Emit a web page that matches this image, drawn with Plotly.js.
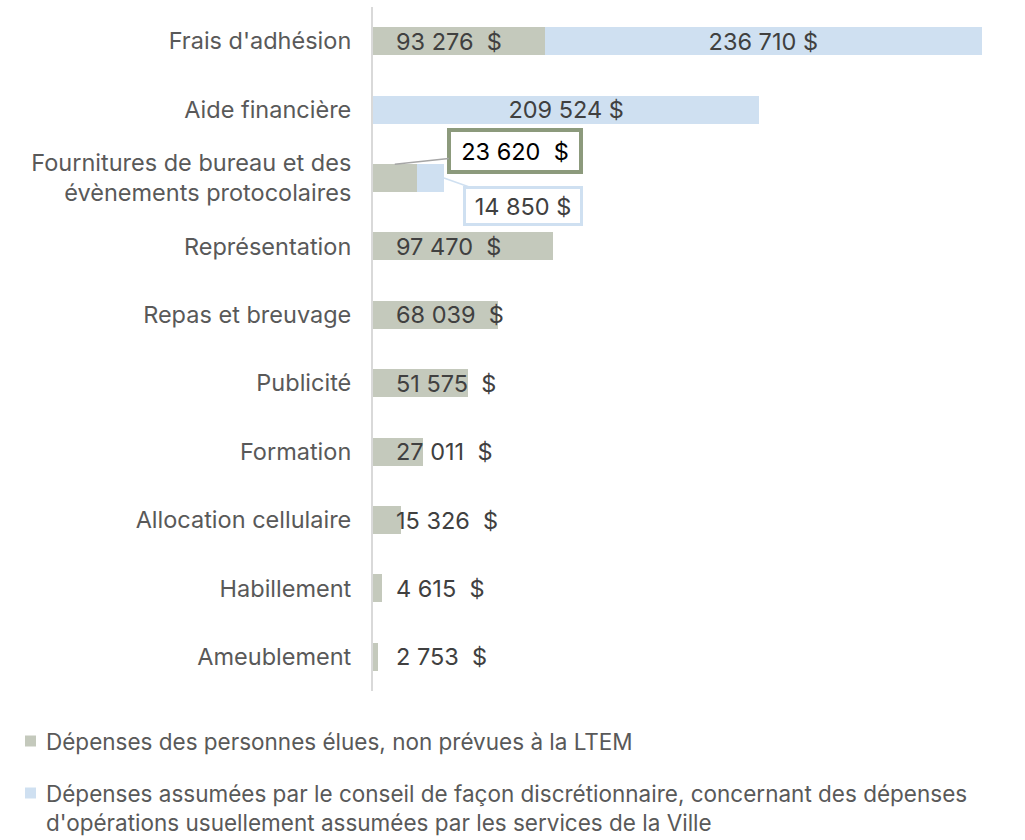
<!DOCTYPE html>
<html><head><meta charset="utf-8">
<script src="https://cdn.plot.ly/plotly-3.0.1.min.js"></script>
<style>html,body{margin:0;padding:0;background:#fff}#chart{width:1025px;height:840px}</style>
</head><body><div id="chart"></div>
<script>
const categories = ["Frais d'adhésion","Aide financière","Fournitures de bureau et des<br>évènements protocolaires","Représentation","Repas et breuvage","Publicité","Formation","Allocation cellulaire","Habillement","Ameublement"];
const eluesValues = [93276, null, 23620, 97470, 68039, 51575, 27011, 15326, 4615, 2753];
const conseilValues = [236710, 209524, 14850, null, null, null, null, null, null, null];
const seriesNames = ["Dépenses des personnes élues, non prévues à la LTEM","Dépenses assumées par le conseil de façon discrétionnaire, concernant des dépenses<br>d'opérations usuellement assumées par les services de la Ville"];
const calloutIndex = 2;

const fmt = v => v.toString().replace(/\B(?=(\d{3})+(?!\d))/g, "\u00a0");
const eluesLabels = eluesValues.map(v => v == null ? "" : fmt(v) + "\u00a0 $");
const conseilLabels = conseilValues.map((v,i) => (v == null || i === calloutIndex) ? "" : fmt(v) + " $");

const TXT = "#404040", LBL = "#595959", GREY = "#c4c9bc", BLUE = "#cfe0f1";
const seriesColors = [GREY, BLUE];
const FONT = "Inter, 'Open Sans', sans-serif";
const FS = 23.5;
const LFS = 22.5;

// plot area geometry (pixels) used to place the hand-drawn legend
const M = {l:373, r:25, t:7, b:149};
const PW = 1025 - M.l - M.r, PH = 840 - M.t - M.b;
const px2x = p => (p - M.l) / PW;
const py2y = p => (840 - M.b - p) / PH;

const traces = [
  {type:"bar", orientation:"h", name:seriesNames[0], y:categories, x:eluesValues,
   marker:{color:GREY}, hoverinfo:"skip"},
  {type:"bar", orientation:"h", name:seriesNames[1], y:categories, x:conseilValues,
   marker:{color:BLUE}, text:conseilLabels, textposition:"inside", insidetextanchor:"middle",
   textfont:{color:TXT, size:FS, family:FONT}, hoverinfo:"skip", constraintext:"none"}
];

const annotations = [];
eluesValues.forEach((v,i) => {
  if (v == null || i === calloutIndex) return;
  annotations.push({x:0, y:i, xref:"x", yref:"y", text:eluesLabels[i], showarrow:false,
    xanchor:"left", xshift:21, font:{size:FS, color:TXT, family:FONT}});
});
// callouts for the small stacked bar
annotations.push({x:eluesValues[calloutIndex]/2, y:calloutIndex-0.2, xref:"x", yref:"y",
  text:eluesLabels[calloutIndex], showarrow:true, arrowhead:0, arrowwidth:1.5, arrowcolor:"#a6a6a6",
  ax:120, ay:-13, bgcolor:"#ffffff", bordercolor:"#8c9a7c", borderwidth:4, borderpad:4,
  width:120, height:30, font:{size:FS, color:"#000000", family:FONT}});
annotations.push({x:eluesValues[calloutIndex]+conseilValues[calloutIndex], y:calloutIndex, xref:"x", yref:"y",
  text:fmt(conseilValues[calloutIndex]) + " $", showarrow:true, arrowhead:0, arrowwidth:1.5, arrowcolor:BLUE,
  ax:79, ay:28, bgcolor:"#ffffff", bordercolor:BLUE, borderwidth:3, borderpad:2,
  width:110, height:30, font:{size:FS, color:TXT, family:FONT}});

// legend (drawn by hand to match the reference spacing)
const legendFirstLine = [741, 793];
const lineH = LFS * 1.3;
const shapes = [];
seriesNames.forEach((name, k) => {
  const cy = legendFirstLine[k];
  const nLines = name.split("<br>").length;
  shapes.push({type:"rect", xref:"paper", yref:"paper", x0:px2x(25), x1:px2x(36),
    y0:py2y(cy+5.5), y1:py2y(cy-5.5), fillcolor:seriesColors[k], line:{width:0}});
  annotations.push({xref:"paper", yref:"paper", x:px2x(44), y:py2y(cy + (nLines-1)*lineH/2),
    xanchor:"left", yanchor:"middle", align:"left", text:name, showarrow:false,
    font:{size:LFS, color:LBL, family:FONT}});
});

const layout = {
  width:1025, height:840,
  margin:M,
  paper_bgcolor:"#fff", plot_bgcolor:"#fff",
  barmode:"stack", bargap:0.59,
  font:{family:FONT, color:LBL, size:FS},
  xaxis:{range:[0,340000], showgrid:false, zeroline:false, showticklabels:false, showline:false, fixedrange:true},
  yaxis:{type:"category", autorange:"reversed", showgrid:false, zeroline:false,
    showline:true, linecolor:"#d9d9d9", linewidth:2, ticks:"", ticklabelstandoff:15,
    tickfont:{size:FS, color:LBL, family:FONT}, fixedrange:true},
  showlegend:false,
  shapes:shapes,
  annotations:annotations
};
Plotly.newPlot("chart", traces, layout, {displayModeBar:false, staticPlot:true});
</script></body></html>
